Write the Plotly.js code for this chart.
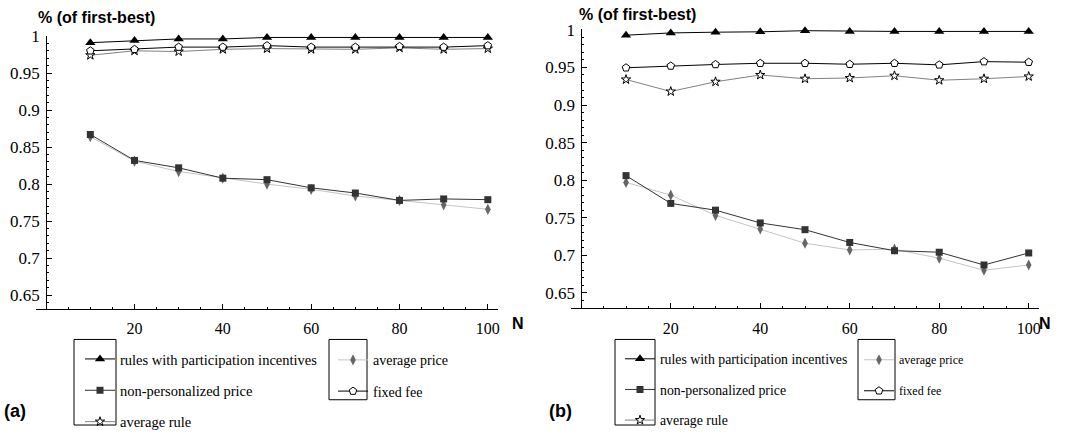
<!DOCTYPE html>
<html><head><meta charset="utf-8">
<script src="https://cdn.plot.ly/plotly-3.0.1.min.js"></script>
<style>html,body{margin:0;padding:0;background:#fff}#chart{width:1071px;height:438px}</style>
</head><body><div id="chart"></div>
<script>
const N = [10, 20, 30, 40, 50, 60, 70, 80, 90, 100];
const seriesNames = ['rules with participation incentives', 'non-personalized price', 'average rule', 'average price', 'fixed fee'];
const xTickVals = [20, 40, 60, 80, 100];
const xTickText = ['20', '40', '60', '80', '100'];
const yTickVals = [0.65, 0.7, 0.75, 0.8, 0.85, 0.9, 0.95, 1];
const yTickText = ['0.65', '0.7', '0.75', '0.8', '0.85', '0.9', '0.95', '1'];

// panel (a)
const aIncentives   = [0.991, 0.994, 0.996, 0.996, 0.998, 0.998, 0.998, 0.998, 0.998, 0.998];
const aNonPersonal  = [0.867, 0.832, 0.822, 0.808, 0.806, 0.795, 0.788, 0.778, 0.780, 0.779];
const aAverageRule  = [0.974, 0.980, 0.979, 0.982, 0.983, 0.982, 0.982, 0.984, 0.982, 0.983];
const aAveragePrice = [0.864, 0.831, 0.817, 0.808, 0.800, 0.793, 0.784, 0.778, 0.772, 0.766];
const aFixedFee     = [0.980, 0.982, 0.985, 0.985, 0.987, 0.985, 0.985, 0.986, 0.985, 0.987];

// panel (b)
const bIncentives   = [0.993, 0.996, 0.997, 0.9975, 0.999, 0.998, 0.998, 0.998, 0.998, 0.998];
const bNonPersonal  = [0.806, 0.769, 0.760, 0.743, 0.734, 0.717, 0.706, 0.704, 0.687, 0.703];
const bAverageRule  = [0.934, 0.918, 0.931, 0.940, 0.935, 0.936, 0.939, 0.933, 0.935, 0.938];
const bAveragePrice = [0.797, 0.780, 0.753, 0.735, 0.716, 0.707, 0.708, 0.696, 0.680, 0.687];
const bFixedFee     = [0.9496, 0.952, 0.954, 0.9556, 0.9556, 0.9543, 0.9556, 0.9535, 0.9578, 0.957];

const W = 1071, H = 438;
const px = v => v / W, py = v => 1 - v / H;

// pick the first installed serif face
function fontAvailable(name) {
  const c = document.createElement('canvas').getContext('2d');
  const s = 'abcdefghijklmnopqrstuvwxyz ABCDEFGHIJ 0123456789';
  return ['monospace', 'sans-serif'].some(base => {
    c.font = '40px ' + base; const w0 = c.measureText(s).width;
    c.font = '40px "' + name + '", ' + base; const w1 = c.measureText(s).width;
    return Math.abs(w0 - w1) > 0.5;
  });
}
const serifCandidates = ['Liberation Serif', 'Times New Roman', 'DejaVu Serif', 'Noto Serif', 'Tinos', 'FreeSerif'];
const SERIF = serifCandidates.find(fontAvailable) || 'serif';
const SANS = 'Liberation Sans';

const styles = [
  {line: {color: '#000', width: 1}, marker: {symbol: 'triangle-up', size: 9, color: '#000'}},
  {line: {color: '#333', width: 1}, marker: {symbol: 'square', size: 7, color: '#333'}},
  {line: {color: '#808080', width: 1}, marker: {symbol: 'star', size: 7, color: '#fff', line: {color: '#000', width: 1}}},
  {line: {color: '#c4c4c4', width: 1}, marker: {symbol: 'diamond-tall', size: 8, color: '#666'}},
  {line: {color: '#000', width: 1}, marker: {symbol: 'pentagon', size: 8, color: '#fff', line: {color: '#000', width: 1}}}
];

function mk(ys, idx, xa, ya, legend) {
  return {
    x: N, y: ys, type: 'scatter', mode: 'lines+markers', name: seriesNames[idx],
    xaxis: xa, yaxis: ya, legend: legend, legendgroup: legend + '_' + idx,
    line: styles[idx].line, marker: styles[idx].marker, cliponaxis: false, showlegend: true
  };
}

const data = [
  mk(aAveragePrice, 3, 'x', 'y', 'legend2'),
  mk(aNonPersonal, 1, 'x', 'y', 'legend'),
  mk(aAverageRule, 2, 'x', 'y', 'legend'),
  mk(aFixedFee, 4, 'x', 'y', 'legend2'),
  mk(aIncentives, 0, 'x', 'y', 'legend'),
  mk(bAveragePrice, 3, 'x2', 'y2', 'legend4'),
  mk(bNonPersonal, 1, 'x2', 'y2', 'legend3'),
  mk(bAverageRule, 2, 'x2', 'y2', 'legend3'),
  mk(bFixedFee, 4, 'x2', 'y2', 'legend4'),
  mk(bIncentives, 0, 'x2', 'y2', 'legend3')
];
data.forEach(t => { t.legendrank = {0: 1, 1: 2, 2: 3, 3: 1, 4: 2}[seriesNames.indexOf(t.name)]; });

const xRange = [-2.3, 102.3];
const xDomA = [px(36), px(498)], xDomB = [px(571), px(1039)];
const yDomA = [py(318), py(37)], yDomB = [py(317), py(30)];
const yRangeA = [0.631, 1.0], yRangeB = [0.6293, 1.001];
const zeroPos = d => d[0] + (0 - xRange[0]) / (xRange[1] - xRange[0]) * (d[1] - d[0]);

function xAxis(dom, anchor) {
  return {
    domain: dom, range: xRange, anchor: anchor, showgrid: false, zeroline: false,
    showline: true, linecolor: '#000', linewidth: 1,
    tickmode: 'array', tickvals: xTickVals, ticktext: xTickText,
    ticks: 'inside', ticklen: 5, tickcolor: '#000', tickwidth: 1, ticklabelstandoff: 5,
    minor: {dtick: 5, tick0: 0, ticks: 'inside', ticklen: 2, tickcolor: '#000', showgrid: false},
    tickfont: {family: SERIF, size: 16, color: '#000'},
    fixedrange: true
  };
}
function yAxis(dom, range, pos) {
  return {
    domain: dom, range: range, anchor: 'free', position: pos, showgrid: false, zeroline: false,
    showline: true, linecolor: '#000', linewidth: 1,
    tickmode: 'array', tickvals: yTickVals, ticktext: yTickText,
    ticks: 'inside', ticklen: 5, tickcolor: '#000', tickwidth: 1, ticklabelstandoff: 3,
    minor: {dtick: 0.01, tick0: 0.65, ticks: 'inside', ticklen: 2, tickcolor: '#000', showgrid: false},
    tickfont: {family: SERIF, size: 17, color: '#000'},
    fixedrange: true
  };
}

function legendCfg(xp, yp, size, gap) {
  return {
    x: px(xp), y: py(yp), xanchor: 'left', yanchor: 'top', orientation: 'v',
    bgcolor: 'rgba(0,0,0,0)', borderwidth: 0, traceorder: 'grouped', tracegroupgap: gap,
    font: {family: SERIF, size: size, color: '#000'},
    itemclick: false, itemdoubleclick: false
  };
}

const boxLine = {color: '#000', width: 1};
const rect = (x0, y0, x1, y1) => ({type: 'rect', xref: 'paper', yref: 'paper', x0: px(x0), x1: px(x1), y0: py(y0), y1: py(y1), line: boxLine, fillcolor: 'rgba(0,0,0,0)'});

const boldFont = s => ({family: SANS, size: s, color: '#000'});
const ann = (text, x, y, xa, size) => ({text: '<b>' + text + '</b>', xref: 'paper', yref: 'paper', x: px(x), y: py(y), xanchor: xa, yanchor: 'middle', showarrow: false, font: boldFont(size)});

const layout = {
  width: W, height: H, autosize: false, margin: {l: 0, r: 0, t: 0, b: 0},
  paper_bgcolor: '#fff', plot_bgcolor: 'rgba(0,0,0,0)', hovermode: false,
  font: {family: SERIF},
  xaxis: xAxis(xDomA, 'y'), yaxis: yAxis(yDomA, yRangeA, zeroPos(xDomA)),
  xaxis2: xAxis(xDomB, 'y2'), yaxis2: yAxis(yDomB, yRangeB, zeroPos(xDomB)),
  legend: legendCfg(80, 353, 14.5, 9.5),
  legend2: legendCfg(333, 354, 14, 10),
  legend3: legendCfg(620, 353, 13.8, 9.7),
  legend4: legendCfg(859, 355, 12, 12),
  shapes: [rect(74, 349, 116, 437), rect(329, 349, 367, 411), rect(615, 349, 655, 437), rect(858, 349, 895, 411)],
  annotations: [
    ann('% (of first-best)', 36, 18, 'left', 16),
    ann('% (of first-best)', 577, 15, 'left', 16),
    ann('N', 518, 333, 'center', 16),
    ann('N', 1045, 333, 'center', 16),
    ann('(a)', 2, 423, 'left', 18),
    ann('(b)', 547, 423, 'left', 18)
  ]
};

Plotly.newPlot('chart', data, layout, {staticPlot: true, displayModeBar: false});
</script>
</body></html>
